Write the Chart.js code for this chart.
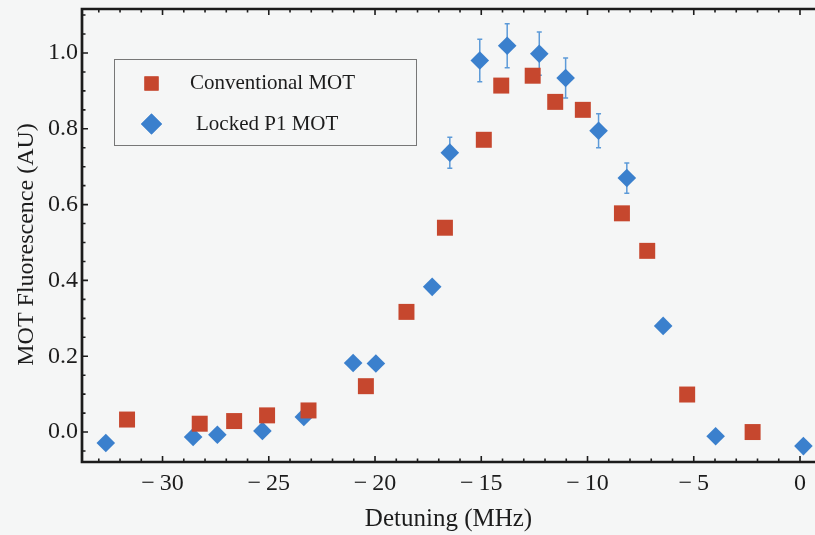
<!DOCTYPE html>
<html>
<head>
<meta charset="utf-8">
<script src="https://cdn.jsdelivr.net/npm/chart.js@4/dist/chart.umd.min.js"></script>
<style>
  html, body { margin: 0; padding: 0; background: #f5f6f6; }
  canvas { display: block; }
</style>
</head>
<body>
<canvas id="c" width="815" height="535"></canvas>
<script>
/* MOT fluorescence vs detuning — scatter with error bars */

// ── data ──
const convX = [-31.67, -28.25, -26.63, -25.08, -23.13, -20.43, -18.52, -16.71, -14.88, -14.06, -12.58, -11.52, -10.22, -8.38, -7.19, -5.31, -2.23];
const convY = [0.033, 0.022, 0.029, 0.044, 0.057, 0.121, 0.317, 0.539, 0.771, 0.914, 0.940, 0.871, 0.850, 0.577, 0.478, 0.099, 0.000];

const lockX = [-32.67, -28.56, -27.42, -25.30, -23.35, -21.03, -19.96, -17.31, -16.48, -15.07, -13.78, -12.27, -11.03, -9.48, -8.15, -6.44, -3.97, 0.16];
const lockY = [-0.029, -0.013, -0.007, 0.003, 0.040, 0.182, 0.181, 0.383, 0.737, 0.980, 1.019, 0.998, 0.934, 0.795, 0.670, 0.280, -0.011, -0.037];
const lockErr = [0, 0, 0, 0, 0, 0, 0, 0, 0.041, 0.056, 0.058, 0.057, 0.053, 0.045, 0.040, 0, 0, 0];

const seriesLabels = ["Conventional MOT", "Locked P1 MOT"];
const xTitle = "Detuning (MHz)";
const yTitle = "MOT Fluorescence (AU)";

const RED = "#c6472e", BLUE = "#3b80cd", ERR = "#5c9ad8", INK = "#1c1c1c";
const SERIF = "'Liberation Serif', 'DejaVu Serif', serif";

const pts = (xs, ys) => xs.map((x, i) => ({ x, y: ys[i] }));

/* ── plugins ── */
const bg = {
  id: "bg",
  beforeDraw(chart) {
    const { ctx, width, height } = chart;
    ctx.save(); ctx.fillStyle = "#f5f6f6"; ctx.fillRect(0, 0, width, height); ctx.restore();
  }
};

const errorBars = {
  id: "errorBars",
  beforeDatasetsDraw(chart) {
    const { ctx, scales: { x, y } } = chart;
    ctx.save();
    ctx.strokeStyle = ERR; ctx.lineWidth = 1.5;
    ctx.beginPath();
    lockX.forEach((v, i) => {
      const e = lockErr[i];
      if (!e) return;
      const px = x.getPixelForValue(v);
      const top = y.getPixelForValue(lockY[i] + e), bot = y.getPixelForValue(lockY[i] - e);
      ctx.moveTo(px, top); ctx.lineTo(px, bot);
      ctx.moveTo(px - 2.5, top); ctx.lineTo(px + 2.5, top);
      ctx.moveTo(px - 2.5, bot); ctx.lineTo(px + 2.5, bot);
    });
    ctx.stroke();
    ctx.restore();
  }
};

const frame = {
  id: "frame",
  afterDatasetsDraw(chart) {
    const { ctx, chartArea: a, scales: { x, y } } = chart;
    ctx.save();
    ctx.strokeStyle = INK;
    ctx.lineWidth = 1.6;
    ctx.beginPath();
    for (let v = Math.ceil(x.min); v <= x.max; v++) {
      const px = x.getPixelForValue(v), len = v % 5 === 0 ? 6 : 3.5;
      ctx.moveTo(px, a.bottom); ctx.lineTo(px, a.bottom - len);
      ctx.moveTo(px, a.top); ctx.lineTo(px, a.top + len);
    }
    for (let k = Math.ceil(y.min / 0.05); k * 0.05 <= y.max; k++) {
      const py = y.getPixelForValue(k * 0.05), len = k % 4 === 0 ? 6 : 3.5;
      ctx.moveTo(a.left, py); ctx.lineTo(a.left + len, py);
    }
    ctx.stroke();
    ctx.lineWidth = 2.7;
    ctx.beginPath();
    ctx.moveTo(a.right + 2, a.top); ctx.lineTo(a.left, a.top);
    ctx.lineTo(a.left, a.bottom); ctx.lineTo(a.right + 2, a.bottom);
    ctx.stroke();
    ctx.restore();
  }
};

const legendBox = {
  id: "legendBox",
  afterDraw(chart) {
    const { ctx } = chart;
    const ds = chart.data.datasets;
    ctx.save();
    ctx.strokeStyle = "#777"; ctx.lineWidth = 1;
    ctx.strokeRect(114.5, 59.5, 302, 86);
    const rows = [{ y: 83.5, tx: 190 }, { y: 124, tx: 196 }];
    ds.forEach((d, i) => {
      ctx.fillStyle = d.pointBackgroundColor;
      Chart.helpers.drawPoint(ctx, { pointStyle: d.pointStyle, radius: i === 0 ? 10 : 10.5, borderWidth: 0, rotation: 0 }, 151.5, rows[i].y);
      ctx.fill();
      ctx.fillStyle = INK;
      ctx.font = "21px " + SERIF;
      ctx.textBaseline = "middle";
      ctx.fillText(d.label, rows[i].tx, rows[i].y);
    });
    ctx.restore();
  }
};

/* ── chart ── */
new Chart(document.getElementById("c"), {
  type: "scatter",
  data: {
    datasets: [
      { label: seriesLabels[0], data: pts(convX, convY), pointStyle: "rect", pointRadius: 11.3,
        pointBackgroundColor: RED, pointBorderWidth: 0 },
      { label: seriesLabels[1], data: pts(lockX, lockY), pointStyle: "rectRot", pointRadius: 9.3,
        pointBackgroundColor: BLUE, pointBorderWidth: 0 },
    ],
  },
  options: {
    responsive: false, animation: false, events: [],
    layout: { padding: { top: 9, right: 0, left: 0, bottom: 0 }, autoPadding: false },
    plugins: { legend: { display: false }, tooltip: { enabled: false } },
    scales: {
      x: {
        type: "linear", min: -33.79, max: 0.706,
        afterFit: s => { s.height = 73; s.paddingLeft = 0; s.paddingRight = 0; s.paddingTop = 0; s.paddingBottom = 0; },
        grid: { display: false, drawTicks: false }, border: { display: false },
        ticks: {
          stepSize: 5, includeBounds: false, padding: 7, color: INK, maxRotation: 0,
          font: { family: SERIF, size: 24 },
          callback: v => (v < 0 ? "\u2212\u2009" + Math.abs(v) : String(v)),
        },
        title: { display: true, text: xTitle, color: INK, font: { family: SERIF, size: 25 }, padding: { top: 0, bottom: 1 } },
      },
      y: {
        type: "linear", min: -0.079, max: 1.116,
        afterFit: s => { s.width = 82; s.paddingTop = 0; s.paddingBottom = 0; s.paddingLeft = 0; s.paddingRight = 0; },
        grid: { display: false, drawTicks: false }, border: { display: false },
        ticks: {
          stepSize: 0.2, includeBounds: false, padding: 4, color: INK,
          font: { family: SERIF, size: 24 },
          callback: v => Math.abs(v).toFixed(1),
        },
        // trailing spaces nudge the rotated title a little lower, like the original
        title: { display: true, text: yTitle + "\u00a0\u00a0\u00a0", color: INK, font: { family: SERIF, size: 24 }, padding: { top: 12, bottom: 0 } },
      },
    },
  },
  plugins: [bg, errorBars, frame, legendBox],
});
</script>
</body>
</html>
